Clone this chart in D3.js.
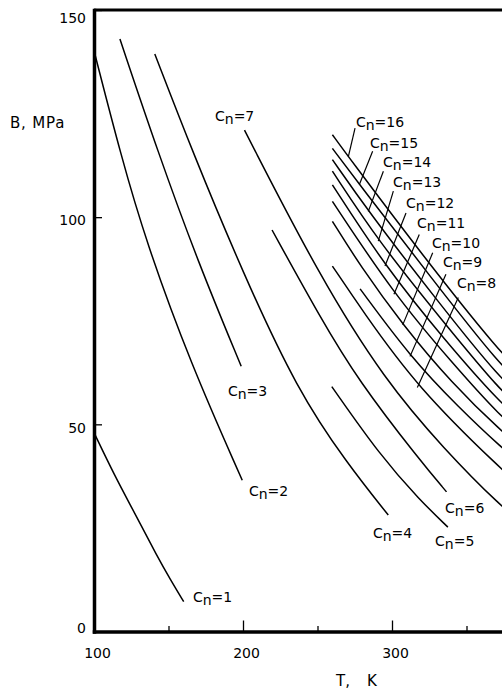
<!DOCTYPE html>
<html><head><meta charset="utf-8">
<script src="https://cdn.jsdelivr.net/npm/d3@7/dist/d3.min.js"></script>
<style>
html,body{margin:0;padding:0;background:#fff;}
svg{display:block;}
text{font-family:"DejaVu Sans",sans-serif;fill:#000;}
</style></head>
<body>
<svg id="chart" width="502" height="691"></svg>
<script>
// ---- data (T in K, B in MPa) ----
const xTicks = [100, 200, 300];
const xMinorTicks = [150, 250, 350];
const yTicks = [0, 50, 100, 150];
const seriesNames = ["1","2","3","4","5","6","7","8","9","10","11","12","13","14","15","16"];
const cn1  = [[100,48],[114,37.5],[127,28.8],[142.6,18],[151.5,12.4],[160.2,7.2]];
const cn2  = [[100.7,139.2],[118,115],[134.8,94.2],[164.9,64.6],[199.5,36.5]];
const cn3  = [[117.4,143],[142.6,116],[170,89],[198.8,64]];
const cn4  = [[140.8,139.4],[166,115.9],[200,86.5],[236.5,58.2],[270,40.5],[297.5,28.1]];
const cn5  = [[259.6,59.1],[292,42.5],[318.7,31.7],[337.5,25.2]];
const cn6  = [[219.5,96.9],[251.8,75.8],[277.3,60.6],[318.7,41.3],[336.6,33.7]];
const cn7  = [[201,121],[251.8,85.4],[295.3,60.6],[335,44],[373.6,30],[390,25.5]];
const cn8  = [[260,88.2],[280,77.5],[317,58.9],[374,38.9],[390,34]];
const cn9  = [[278.6,82.7],[312,66.4],[345,54],[374,44.2],[390,39.5]];
const cn10 = [[260,99],[278.6,88.3],[307.2,74],[340,60],[374,48.1],[390,43.5]];
const cn11 = [[260,103.8],[301.3,81.4],[340,65],[374,51.4],[390,47]];
const cn12 = [[260,107.8],[295.3,88.2],[335,70.5],[374,54.6],[390,50]];
const cn13 = [[260,111.1],[290.8,94.2],[335,74.5],[374,57.5],[390,53]];
const cn14 = [[260,113.9],[284.1,101.4],[330,80],[374,60.3],[390,56]];
const cn15 = [[260,116.6],[278.1,107.9],[325,86],[374,63.5],[390,59]];
const cn16 = [[260,119.9],[270.7,114.6],[320,91],[374,66.6],[390,61.5]];
const seriesValues = [cn1,cn2,cn3,cn4,cn5,cn6,cn7,cn8,cn9,cn10,cn11,cn12,cn13,cn14,cn15,cn16];
// label anchor (T,B) for each series
const labelAt = [[166.4,7.1],[204,32.6],[189.9,56.9],[287.2,22.5],[328.9,20.6],[335.6,28.5],[181.2,123.1],
  [343.6,82.9],[334.2,88],[326.8,92.6],[316.8,97.4],[309.4,102.2],[300.7,107.2],[293.96,112],[285.2,116.8],[275.8,121.7]];
// leader lines for Cn=8..16: [T1,B1,T2,B2]
const leaderNames = ["8","9","10","11","12","13","14","15","16"];
const leaders = [[344.5,80.6,317,58.9],[336.2,86.2,312.1,66.4],[327.3,91.4,307.2,74],[318.3,95.8,301.3,81.4],
  [309.4,101,295.3,88.2],[300.9,106.3,290.8,94.2],[294.2,111.1,284.1,101.4],[287,115.9,278.1,107.9],[275.2,121.5,270.7,114.6]];

// ---- drawing ----
const svg = d3.select("#chart");
const x = d3.scaleLinear().domain([100, 400]).range([94, 541]);
const y = d3.scaleLinear().domain([0, 150]).range([631.5, 10]);

const line = d3.line().x(d => x(d[0])).y(d => y(d[1])).curve(d3.curveBasis);

svg.append("g").selectAll("path").data(seriesValues).join("path")
  .attr("d", line).attr("fill", "none").attr("stroke", "#000").attr("stroke-width", 1.5);

svg.append("g").selectAll("line").data(leaders).join("line")
  .attr("x1", d => x(d[0])).attr("y1", d => y(d[1]))
  .attr("x2", d => x(d[2])).attr("y2", d => y(d[3]))
  .attr("stroke", "#000").attr("stroke-width", 1.2);

const lab = svg.append("g").selectAll("text").data(seriesNames).join("text")
  .attr("x", (d,i) => x(labelAt[i][0])).attr("y", (d,i) => y(labelAt[i][1]))
  .attr("font-size", 14);
lab.append("tspan").text("C");
lab.append("tspan").attr("dy", 3).text("n");
lab.append("tspan").attr("dy", -3).text(d => "=" + d);

// axes
const gx = svg.append("g").attr("transform", `translate(0,${y(0)})`)
  .call(d3.axisBottom(x).tickValues(xTicks).tickSizeInner(-11).tickSizeOuter(0).tickPadding(16.5).tickFormat(d3.format("d")));
gx.select(".domain").attr("stroke-width", 3.5).attr("stroke-linecap", "square");
gx.selectAll(".tick line").attr("stroke-width", 1.3);
gx.selectAll("text").attr("font-size", 14).attr("font-family", "DejaVu Sans").attr("dx", 3);

const gxm = svg.append("g").attr("transform", `translate(0,${y(0)})`)
  .call(d3.axisBottom(x).tickValues(xMinorTicks).tickSizeInner(-5.5).tickSizeOuter(0).tickFormat(""));
gxm.select(".domain").remove();
gxm.selectAll(".tick line").attr("stroke-width", 1.3);

const gy = svg.append("g").attr("transform", `translate(${x(100)},0)`)
  .call(d3.axisLeft(y).tickValues(yTicks).tickSizeInner(-8).tickSizeOuter(0).tickPadding(8));
gy.select(".domain").attr("stroke-width", 3.5).attr("stroke-linecap", "square");
gy.selectAll(".tick line").attr("stroke-width", 1.3);
gy.selectAll("text").attr("font-size", 14).attr("font-family", "DejaVu Sans")
  .attr("dy", d => d === 150 ? "0.9em" : d === 0 ? "0.05em" : "0.55em");

// top frame line
svg.append("line").attr("x1", x(100)).attr("x2", x(400)).attr("y1", y(150)).attr("y2", y(150))
  .attr("stroke", "#000").attr("stroke-width", 3);

// axis titles
svg.append("text").attr("x", 10).attr("y", 128).attr("font-size", 15).attr("letter-spacing", 0.8).text("B, MPa");
svg.append("text").attr("x", 336).attr("y", 686).attr("font-size", 15).text("T,");
svg.append("text").attr("x", 367).attr("y", 686).attr("font-size", 15).text("K");
</script>
</body></html>
